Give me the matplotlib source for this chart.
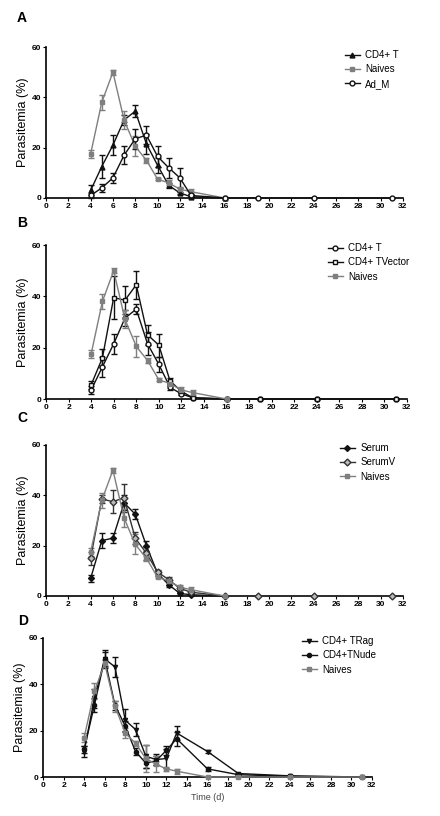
import numpy as np
import matplotlib.pyplot as plt

plt.rcParams['font.family'] = ['Liberation Sans', 'DejaVu Sans']

days = [4, 5, 6, 7, 8, 9, 10, 11, 12, 13, 16, 19, 24, 31]
days_short = [4, 5, 6, 7, 8, 9, 10, 11, 12, 13, 16]

# Naives (shared across A-C)
naive_y = [17.5, 38, 50, 31, 20.5, 15, 7.5, 6, 3.5, 2.5, 0]
naive_e = [1.5, 3, 1, 3.5, 4, 1, 0.5, 1, 1, 1, 0]

# Panel A
a_cd4_y = [3, 12.5, 21, 31, 34.5, 21.5, 13, 5, 2, 0.5, 0]
a_cd4_e = [2, 4.5, 4, 2, 2.5, 4, 3, 1, 0.5, 0.3, 0]
a_adm_y = [1, 4, 8, 17, 23.5, 25, 16.5, 12, 8, 1, 0, 0, 0, 0]
a_adm_e = [1, 1.5, 2, 3.5, 4, 3.5, 4, 4, 4, 0.5, 0, 0, 0, 0]

# Panel B
b_cd4_y = [3.5, 12.5, 21.5, 31.5, 35, 21.5, 13.5, 4.5, 2, 0.5, 0, 0, 0, 0]
b_cd4_e = [1.5, 4, 4, 3, 2, 4.5, 3, 1, 0.5, 0.3, 0, 0, 0, 0]
b_vec_y = [5.5, 16, 39.5, 38.5, 44.5, 25, 21, 7, 3, 0.5, 0, 0, 0, 0]
b_vec_e = [1.5, 3.5, 8.5, 5.5, 5.5, 4, 4.5, 1, 0.5, 0.3, 0, 0, 0, 0]

# Panel C
c_ser_y = [7, 22, 23, 37, 32.5, 20, 9, 4.5, 1, 0.5, 0]
c_ser_e = [1.5, 3, 2, 3, 2, 2, 1, 1, 0.5, 0.3, 0]
c_serv_y = [15, 38.5, 37.5, 39, 23, 17, 9.5, 6.5, 3, 1.5, 0, 0, 0, 0]
c_serv_e = [2.5, 1.5, 4.5, 5.5, 2.5, 2.5, 1, 1, 0.5, 0.5, 0, 0, 0, 0]

# Panel D
d_rag_y = [11, 34, 51, 47.5, 24.5, 20.5, 9, 7.5, 8, 19, 11, 1.5, 0.5, 0]
d_rag_e = [2.5, 4, 4, 4.5, 5, 3, 5, 2.5, 4, 3, 0.5, 0.3, 0.2, 0]
d_nude_y = [12, 31, 51, 31, 22, 11, 6, 7, 11.5, 16.5, 3.5, 1, 0.3, 0]
d_nude_e = [1.5, 3, 3, 2, 2, 1.5, 2, 2, 2, 3, 1, 0.3, 0.2, 0]
d_naive_y = [17, 37, 49, 30.5, 19, 14.5, 8, 5.5, 3.5, 2.5, 0, 0, 0, 0]
d_naive_e = [2, 3.5, 1.5, 2.5, 2, 1, 6, 3.5, 1, 1, 0, 0, 0, 0]

BLACK = '#111111'
GRAY = '#7f7f7f'

fig = plt.figure(figsize=(4.4, 8.16), dpi=100)

rects = [
    (46/440, 1-198/816, 357/440, 151/816),
    (46/440, 1-399/816, 361/440, 154/816),
    (46/440, 1-596/816, 357/440, 151/816),
    (43/440, 1-777/816, 329/440, 139/816),
]
letters = ['A', 'B', 'C', 'D']
letter_pos = [(17, 18), (17, 223), (17, 418), (18, 621)]


def series(ax, x, y, e, color, marker, mfc, label, ms=3.5):
    c = ax.errorbar(x, y, yerr=e, color=color, marker=marker, mfc=mfc, mec=color,
                    ms=ms, lw=1.0, elinewidth=1.0, capsize=2, capthick=1.0,
                    clip_on=False, zorder=3)
    return c[0], label


axes = []
for r in rects:
    ax = fig.add_axes(r)
    ax.set_xlim(0, 32)
    ax.set_ylim(0, 60)
    ax.set_xticks(np.arange(0, 33, 2))
    ax.set_yticks([0, 20, 40, 60])
    ax.spines['top'].set_visible(False)
    ax.spines['right'].set_visible(False)
    ax.spines['left'].set_linewidth(1.2)
    ax.spines['bottom'].set_linewidth(1.2)
    ax.tick_params(labelsize=6, length=2.5, width=0.8, pad=1)
    for t in ax.get_xticklabels() + ax.get_yticklabels():
        t.set_fontweight('bold')
    ax.set_ylabel('Parasitemia (%)', fontsize=9, labelpad=2)
    axes.append(ax)

for (lx, ly), s in zip(letter_pos, letters):
    fig.text(lx/440, 1-ly/816, s, fontsize=10, fontweight='bold', va='center', ha='left')

handles = []
ax = axes[0]
handles.append([
    series(ax, days_short, a_cd4_y, a_cd4_e, BLACK, '^', BLACK, 'CD4+ T'),
    series(ax, days_short, naive_y, naive_e, GRAY, 's', GRAY, 'Naives', ms=2.8),
    series(ax, days, a_adm_y, a_adm_e, BLACK, 'o', 'white', 'Ad_M'),
])

ax = axes[1]
handles.append([
    series(ax, days, b_cd4_y, b_cd4_e, BLACK, 'o', 'white', 'CD4+ T'),
    series(ax, days, b_vec_y, b_vec_e, BLACK, 's', 'white', 'CD4+ TVector'),
    series(ax, days_short, naive_y, naive_e, GRAY, 's', GRAY, 'Naives', ms=2.8),
])

ax = axes[2]
handles.append([
    series(ax, days_short, c_ser_y, c_ser_e, BLACK, 'D', BLACK, 'Serum', ms=3),
    series(ax, days, c_serv_y, c_serv_e, '#333333', 'D', '#bbbbbb', 'SerumV', ms=3.5),
    series(ax, days_short, naive_y, naive_e, GRAY, 's', GRAY, 'Naives', ms=2.8),
])

ax = axes[3]
handles.append([
    series(ax, days, d_rag_y, d_rag_e, BLACK, 'v', BLACK, 'CD4+ TRag', ms=3),
    series(ax, days, d_nude_y, d_nude_e, BLACK, 'o', BLACK, 'CD4+TNude', ms=3),
    series(ax, days, d_naive_y, d_naive_e, GRAY, 's', GRAY, 'Naives', ms=2.8),
])
ax.set_xlabel('Time (d)', fontsize=6.5, color='#444444', labelpad=3)

leg_pos = [(345, 50), (328, 243), (340, 443), (302, 636)]
for ax, h, (lx, ly) in zip(axes, handles, leg_pos):
    ax.legend([p[0] for p in h], [p[1] for p in h], loc='upper left',
              bbox_to_anchor=(lx/440, 1-ly/816),
              bbox_transform=fig.transFigure, frameon=False, fontsize=7,
              handlelength=1.5, handletextpad=0.6, labelspacing=0.45,
              borderaxespad=0, borderpad=0)

fig.savefig('out.png', dpi=100)
